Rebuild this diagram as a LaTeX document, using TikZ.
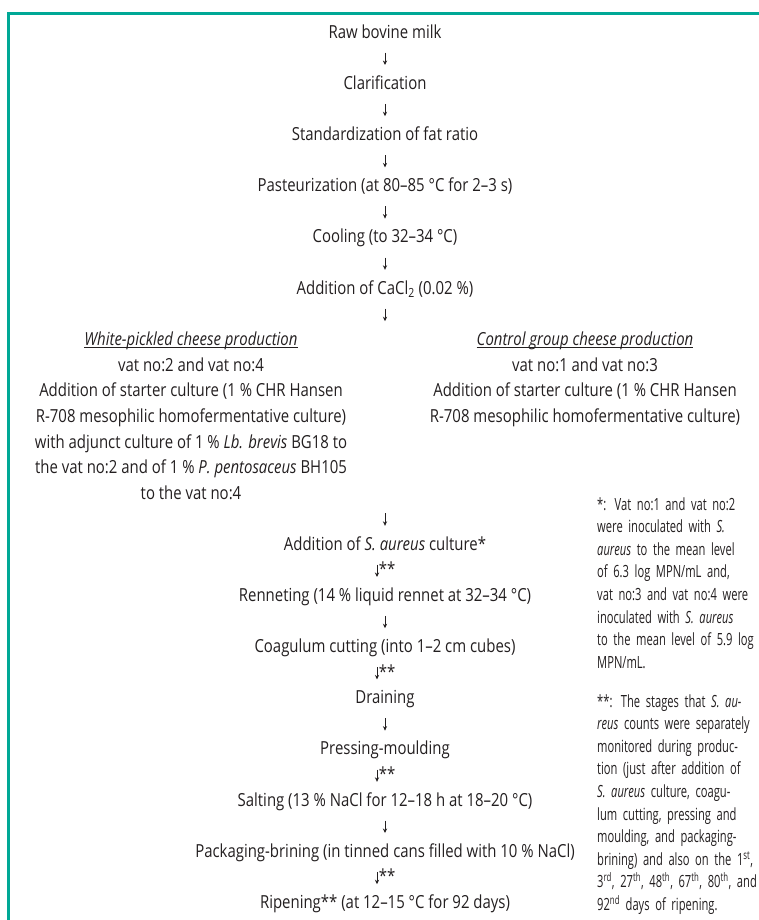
\documentclass[tikz,border=0pt]{standalone}
\usepackage{fontspec}
\setmainfont[FakeStretch=0.83]{Open Sans}
\newfontfamily\notefont[FakeStretch=0.665]{Open Sans}
\usetikzlibrary{arrows.meta}
\definecolor{frameteal}{RGB}{0,168,150}
\definecolor{inktext}{RGB}{35,31,32}
\newcommand{\headline}[1]{\underline{\raisebox{0pt}[\height][0pt]{\textit{#1}}}}
\tikzset{
    frame/.style={line width=2.6bp, frameteal, line join=miter},
    stage/.style={anchor=base, inner sep=0pt, text height=12bp, text depth=4bp,
        text=inktext, font=\fontsize{18bp}{25.6bp}\selectfont},
    block/.style={anchor=north, inner sep=0pt, align=center, text=inktext,
        font=\fontsize{18bp}{25.6bp}\selectfont},
    note/.style={anchor=north west, inner sep=0pt, align=left, text width=151bp,
        text=inktext, font=\notefont\fontsize{16.8bp}{22.6bp}\selectfont},
    flow/.style={-{Stealth[length=4.5bp,width=4.2bp]}, line width=0.9bp, inktext,
        shorten <=10.5bp, shorten >=12bp},
    stars/.style={anchor=west, inner sep=0pt, xshift=1.5bp, pos=0.42,
        text=inktext, font=\fontsize{18bp}{25.6bp}\selectfont},
}
\begin{document}
\begin{tikzpicture}[x=1bp, y=-1bp]
        \useasboundingbox (0,0) rectangle (759,920);
        % frame lines
        \draw[frame] (8.7,920) -- (8.7,13.7) -- (759,13.7);
        % first stages
        \node[stage] (raw)   at (385, 38.0)  {Raw bovine milk};
        \node[stage] (clar)  at (385, 89.2)  {Clarification};
        \node[stage] (std)   at (385, 140.4) {Standardization of fat ratio};
        \node[stage] (past)  at (385, 191.6) {Pasteurization (at 80–85 °C for 2–3 s)};
        \node[stage] (cool)  at (385, 242.8) {Cooling (to 32–34 °C)};
        \node[stage] (cacl)  at (385, 294.0) {Addition of CaCl\textsubscript{2} (0.02 \%)};
        \coordinate (split) at (385, 333.2);
        % two productions
        \node[block] (white) at (191, 331.8) {\headline{White-pickled cheese production}\\
            vat no:2 and vat no:4\\
            Addition of starter culture (1 \% CHR Hansen\\
            R-708 mesophilic homofermentative culture)\\
            with adjunct culture of 1 \% \textit{Lb. brevis} BG18 to\\
            the vat no:2 and of 1 \% \textit{P. pentosaceus} BH105\\
            to the vat no:4};
        \node[block] (control) at (585, 331.8) {\headline{Control group cheese production}\\
            vat no:1 and vat no:3\\
            Addition of starter culture (1 \% CHR Hansen\\
            R-708 mesophilic homofermentative culture)};
        \coordinate (merge) at (385, 502.8);
        % later stages
        \node[stage] (aureus) at (385, 550.0) {Addition of \textit{S. aureus} culture*};
        \node[stage] (renn)  at (385, 601.2) {Renneting (14 \% liquid rennet at 32–34 °C)};
        \node[stage] (coag)  at (385, 652.4) {Coagulum cutting (into 1–2 cm cubes)};
        \node[stage] (drain) at (385, 703.6) {Draining};
        \node[stage] (press) at (385, 754.8) {Pressing-moulding};
        \node[stage] (salt)  at (385, 806.0) {Salting (13 \% NaCl for 12–18 h at 18–20 °C)};
        \node[stage] (pack)  at (385, 857.2) {Packaging-brining (in tinned cans filled with 10 \% NaCl)};
        \node[stage] (ripe)  at (385, 908.4) {Ripening** (at 12–15 °C for 92 days)};
        % arrows
        \draw[flow] (raw)   -- (clar);
        \draw[flow] (clar)  -- (std);
        \draw[flow] (std)   -- (past);
        \draw[flow] (past)  -- (cool);
        \draw[flow] (cool)  -- (cacl);
        \draw[flow] (cacl)  -- (split);
        \draw[flow] (merge) -- (aureus);
        \draw[flow] ([xshift=-8bp]aureus.south) -- ([xshift=-8bp]renn.north) node[stars] {**};
        \draw[flow] (renn)  -- (coag);
        \draw[flow] ([xshift=-8bp]coag.south) -- ([xshift=-8bp]drain.north) node[stars] {**};
        \draw[flow] (drain) -- (press);
        \draw[flow] ([xshift=-8bp]press.south) -- ([xshift=-8bp]salt.north) node[stars] {**};
        \draw[flow] (salt)  -- (pack);
        \draw[flow] ([xshift=-8bp]pack.south) -- ([xshift=-8bp]ripe.north) node[stars] {**};
        % footnotes
        \node[note] (note1) at (597, 497.2) {%
            \makebox[151bp][s]{*: Vat no:1 and vat no:2}\\
            \makebox[151bp][s]{were inoculated with \textit{S.}}\\
            \makebox[151bp][s]{\textit{aureus} to the mean level}\\
            \makebox[151bp][s]{of 6.3 log MPN/mL and,}\\
            \makebox[151bp][s]{vat no:3 and vat no:4 were}\\
            \makebox[151bp][s]{inoculated with \textit{S. aureus}}\\
            \makebox[151bp][s]{to the mean level of 5.9 log}\\
            MPN/mL.};
        \node[note] (note2) at (597, 694.2) {%
            \makebox[151bp][s]{**: The stages that \textit{S. au-}}\\
            \makebox[151bp][s]{\textit{reus} counts were separately}\\
            \makebox[151bp][s]{monitored during produc-}\\
            \makebox[151bp][s]{tion (just after addition of}\\
            \makebox[151bp][s]{\textit{S. aureus} culture, coagu-}\\
            \makebox[151bp][s]{lum cutting, pressing and}\\
            \makebox[151bp][s]{moulding, and packaging-}\\
            \makebox[151bp][s]{brining) and also on the 1\textsuperscript{st},}\\
            \makebox[151bp][s]{3\textsuperscript{rd}, 27\textsuperscript{th}, 48\textsuperscript{th}, 67\textsuperscript{th}, 80\textsuperscript{th}, and}\\
            92\textsuperscript{nd} days of ripening.};
\end{tikzpicture}
\end{document}
